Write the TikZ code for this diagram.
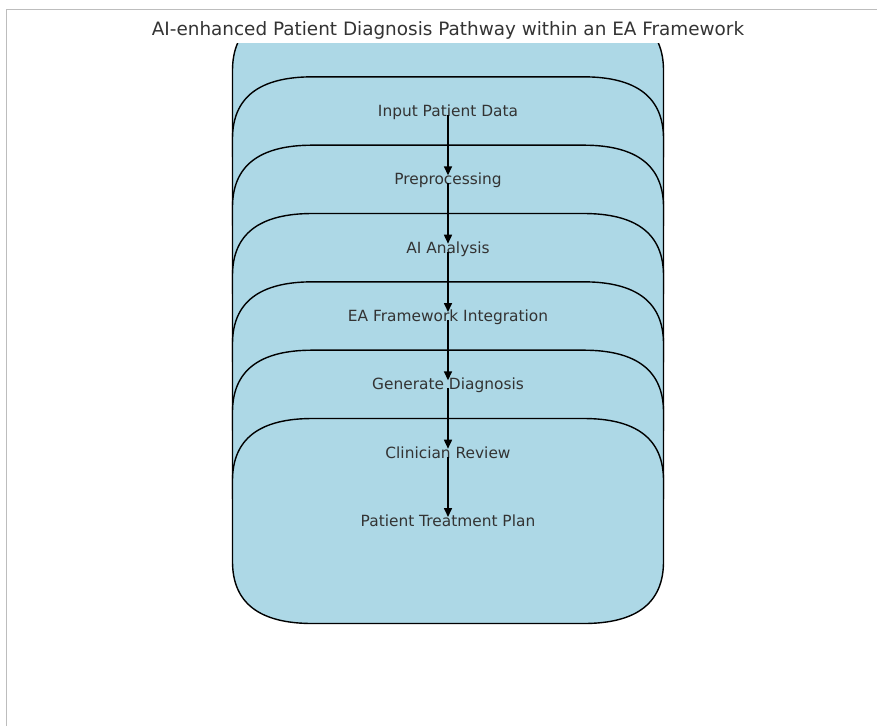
\documentclass[tikz,border=0pt]{standalone}
\usepackage{fontspec}
\setmainfont{DejaVu Sans}
\usetikzlibrary{arrows.meta}
\definecolor{boxfill}{HTML}{ADD8E6}
\definecolor{txtgray}{HTML}{333333}
\definecolor{framegray}{HTML}{BDBDBD}
\tikzset{
  boxshape/.style={fill=boxfill, draw=black, line width=1.4pt},
  lbl/.style={text=txtgray, font=\fontsize{15.4}{18}\selectfont, inner sep=0pt, anchor=base},
  ttl/.style={text=txtgray, font=\fontsize{18.4}{22}\selectfont, inner sep=0pt, anchor=base},
  arr/.style={draw=black, line width=1.6pt, -{Triangle[width=8pt,length=9pt]}, shorten <=4pt, shorten >=4pt},
  framel/.style={draw=framegray, line width=1pt}
}
\begin{document}
\begin{tikzpicture}[x=1pt,y=-1pt]
\useasboundingbox (0,0) rectangle (877,726);
% frame lines
\coordinate (fbl) at (6.5,726);
\coordinate (ftl) at (6.5,9.5);
\coordinate (ftr) at (877,9.5);
\draw[framel] (fbl) -- (ftl) -- (ftr);
% title
\node[ttl] (title) at (448,35) {AI-enhanced Patient Diagnosis Pathway within an EA Framework};
% stacked rounded boxes
\begin{scope}
\clip (0,43) rectangle (877,726);
\foreach \i in {0,...,6} {
  \pgfmathsetmacro\ytop{8.5+\i*68.333}
  \pgfmathsetmacro\ybot{\ytop+205}
  \path[boxshape] (232.5,{\ytop+62}) .. controls (232.5,{\ytop+20.67}) and (259.17,\ytop) .. (312.5,\ytop)
    -- (583.5,\ytop) .. controls (636.83,\ytop) and (663.5,{\ytop+20.67}) .. (663.5,{\ytop+62})
    -- (663.5,{\ybot-62}) .. controls (663.5,{\ybot-20.67}) and (636.83,\ybot) .. (583.5,\ybot)
    -- (312.5,\ybot) .. controls (259.17,\ybot) and (232.5,{\ybot-20.67}) .. (232.5,{\ybot-62}) -- cycle;
}
\end{scope}
% labels
\node[lbl] (t1) at (448,116.5) {Input Patient Data};
\node[lbl] (t2) at (448,184.8) {Preprocessing};
\node[lbl] (t3) at (448,253.2) {AI Analysis};
\node[lbl] (t4) at (448,321.5) {EA Framework Integration};
\node[lbl] (t5) at (448,389.8) {Generate Diagnosis};
\node[lbl] (t6) at (448,458.2) {Clinician Review};
\node[lbl] (t7) at (448,526.5) {Patient Treatment Plan};
% arrow anchors at label centres
\coordinate (c1) at (448,111);
\coordinate (c2) at (448,179.3);
\coordinate (c3) at (448,247.7);
\coordinate (c4) at (448,316);
\coordinate (c5) at (448,384.3);
\coordinate (c6) at (448,452.7);
\coordinate (c7) at (448,521);
\draw[arr] (c1) -- (c2);
\draw[arr] (c2) -- (c3);
\draw[arr] (c3) -- (c4);
\draw[arr] (c4) -- (c5);
\draw[arr] (c5) -- (c6);
\draw[arr] (c6) -- (c7);
\end{tikzpicture}
\end{document}
